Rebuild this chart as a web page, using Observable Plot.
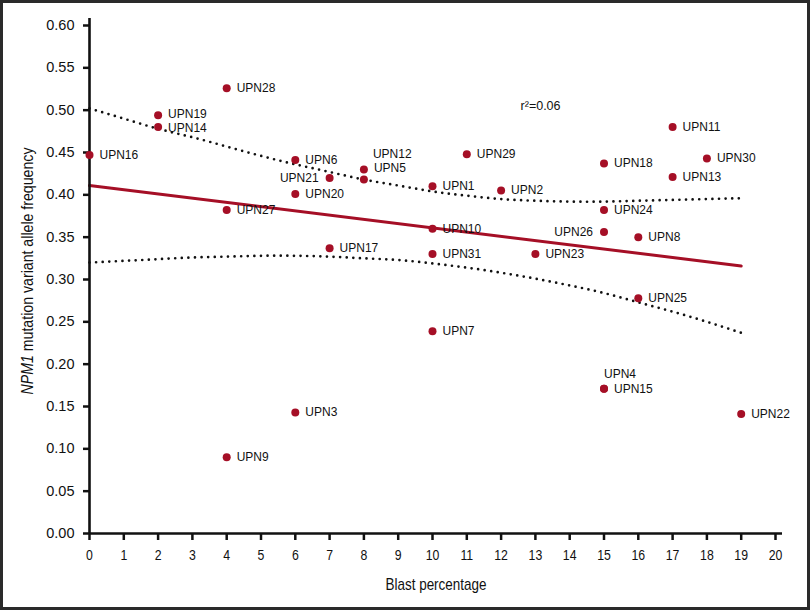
<!DOCTYPE html>
<html><head><meta charset="utf-8">
<script src="https://cdn.jsdelivr.net/npm/d3@7"></script>
<script src="https://cdn.jsdelivr.net/npm/@observablehq/plot@0.6"></script>
<style>
html,body{margin:0;padding:0;background:#fff;}
#wrap{position:relative;width:810px;height:610px;overflow:hidden;background:#fff;}
#frame{position:absolute;left:0;top:0;width:810px;height:610px;box-sizing:border-box;border:3px solid #2a2a2a;pointer-events:none;}
</style></head><body>
<div id="wrap"><div id="chart"></div><div id="frame"></div></div>
<script>
// ---- data ----
const patients = ["UPN16","UPN19","UPN14","UPN28","UPN27","UPN9","UPN6","UPN20","UPN3","UPN21","UPN17",
  "UPN12","UPN5","UPN1","UPN10","UPN31","UPN7","UPN29","UPN2","UPN23","UPN18","UPN24","UPN26","UPN4","UPN15",
  "UPN8","UPN25","UPN11","UPN13","UPN30","UPN22"];
const blast = [0,2,2,4,4,4,6,6,6,7,7,8,8,10,10,10,10,11,12,13,15,15,15,15,15,16,16,17,17,18,19];
const vaf = [0.447,0.494,0.480,0.526,0.382,0.090,0.441,0.401,0.143,0.420,0.337,
  0.430,0.418,0.410,0.360,0.330,0.239,0.448,0.405,0.330,0.437,0.382,0.356,0.171,0.171,
  0.350,0.278,0.480,0.421,0.443,0.141];
const fitX = [0, 19];
const fitY = [0.411, 0.316];
const bandX = [0,1,2,3,4,5,6,7,8,9,10,11,12,13,14,15,16,17,18,19];
const upperBand = [0.502,0.490,0.478,0.468,0.457,0.446,0.436,0.427,0.418,0.411,0.404,0.399,0.395,0.393,0.392,0.392,0.393,0.394,0.395,0.396];
const lowerBand = [0.320,0.322,0.324,0.326,0.327,0.328,0.328,0.327,0.325,0.323,0.319,0.314,0.308,0.301,0.293,0.284,0.273,0.262,0.250,0.237];
const xTicks = [0,1,2,3,4,5,6,7,8,9,10,11,12,13,14,15,16,17,18,19,20];
const yTicks = [0,0.05,0.10,0.15,0.20,0.25,0.30,0.35,0.40,0.45,0.50,0.55,0.60];
const r2Text = "r²=0.06";
const r2X = 13.15, r2Y = 0.505;
const xTitle = "Blast percentage";
const yTitleItalic = "NPM1";
const yTitleRest = " mutation variant allele frequency";

// ---- label placement (style only) ----
const leftLabels = ["UPN21","UPN26"];
const specialLabels = {
  UPN12: {dx: 9, dy: -15}, UPN5: {dx: 10, dy: -11}, UPN4: {dx: 0, dy: -15},
  UPN19: {dx: 10, dy: -1.5}, UPN14: {dx: 10, dy: 1.5}
};

const pts = patients.map((p, i) => ({name: p, x: blast[i], y: vaf[i]}));
const fit = fitX.map((x, i) => ({x, y: fitY[i]}));
const up = bandX.map((x, i) => ({x, y: upperBand[i]}));
const lo = bandX.map((x, i) => ({x, y: lowerBand[i]}));

const red = "#a50f26";
const sans = "'Liberation Sans', Arial, Helvetica, sans-serif";
const dotted = {x: "x", y: "y", curve: "natural", stroke: "#111", strokeWidth: 2.7, strokeDasharray: "0,6.6", strokeLinecap: "round"};
const lbl = {x: "x", y: "y", text: "name", fontSize: 12, fontFamily: sans, fill: "#111"};

const marks = [
  Plot.line(up, dotted),
  Plot.line(lo, dotted),
  Plot.line(fit, {x: "x", y: "y", stroke: red, strokeWidth: 3}),
  Plot.ruleX([0], {stroke: "#111", strokeWidth: 2.6, insetTop: -7}),
  Plot.ruleY([0], {stroke: "#111", strokeWidth: 2.6, insetRight: -7}),
  Plot.axisX({ticks: xTicks, tickSize: 7, tickPadding: 9, stroke: "#111", strokeWidth: 2.5, fontSize: 15, fontFamily: sans, fill: "#111"}),
  Plot.axisY({ticks: yTicks, tickFormat: ".2f", tickSize: 6, tickPadding: 9, stroke: "#111", strokeWidth: 2.5, fontSize: 14.5, fontFamily: sans, fill: "#111"}),
  Plot.dot(pts, {x: "x", y: "y", r: 4, fill: red}),
  Plot.text(pts, {...lbl, filter: d => !leftLabels.includes(d.name) && !specialLabels[d.name], textAnchor: "start", dx: 10}),
  Plot.text(pts, {...lbl, filter: d => leftLabels.includes(d.name), textAnchor: "end", dx: -11}),
  ...Object.entries(specialLabels).map(([k, o]) => Plot.text(pts, {...lbl, filter: d => d.name === k, textAnchor: "start", dx: o.dx, dy: o.dy})),
  Plot.text([r2Text], {x: () => r2X, y: () => r2Y, text: d => d, fontSize: 12.5, fontFamily: sans, fill: "#111"})
];

const chart = Plot.plot({
  width: 810, height: 610,
  marginLeft: 89, marginRight: 35, marginTop: 25, marginBottom: 77,
  style: {fontFamily: sans, background: "transparent", color: "#111"},
  x: {domain: [0, 20], label: null, axis: null},
  y: {domain: [0, 0.6], label: null, axis: null},
  marks
});

// condense the x tick labels slightly like the reference's narrow face
d3.select(chart).selectAll("g[aria-label='x-axis tick label'] text").each(function() {
  const t = d3.select(this);
  const tr = t.attr("transform") || "";
  t.attr("transform", tr + " scale(0.82,1)");
  const x = +t.attr("x") || 0;
  if (x) t.attr("x", x / 0.82);
});

const svg = d3.select(chart);
svg.append("text")
  .attr("x", 436).attr("y", 584)
  .attr("text-anchor", "middle").attr("dominant-baseline", "central")
  .attr("font-family", sans).attr("font-size", 17).attr("fill", "#111")
  .attr("textLength", 101).attr("lengthAdjust", "spacingAndGlyphs")
  .text(xTitle);
const yt = svg.append("text")
  .attr("transform", "translate(27,271) rotate(-90)")
  .attr("text-anchor", "middle").attr("dominant-baseline", "central")
  .attr("font-family", sans).attr("font-size", 17).attr("fill", "#111")
  .attr("textLength", 247).attr("lengthAdjust", "spacingAndGlyphs");
yt.append("tspan").attr("font-style", "italic").text(yTitleItalic);
yt.append("tspan").text(yTitleRest);

document.getElementById("chart").appendChild(chart);
</script>
</body></html>
